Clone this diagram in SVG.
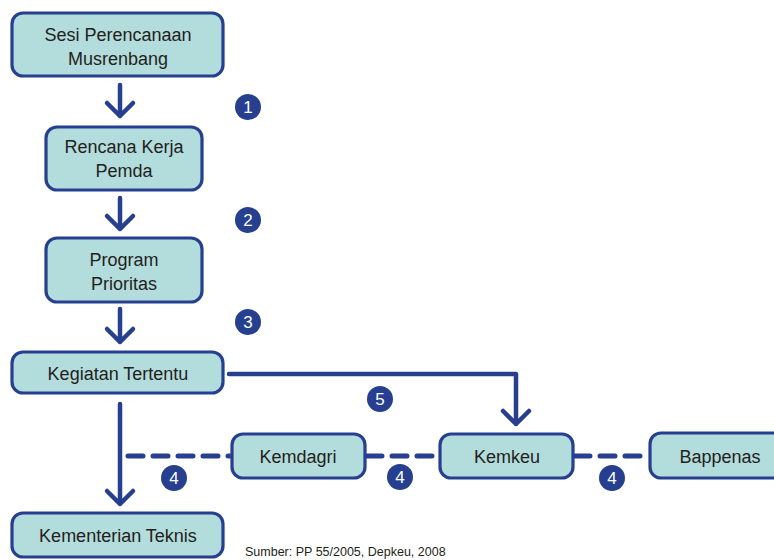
<svg xmlns="http://www.w3.org/2000/svg" width="774" height="560" viewBox="0 0 774 560">
<defs>
<style>
.box{fill:#b3dcdc;stroke:#263f8f;stroke-width:3.2}
.t{font-family:"Liberation Sans",Arial,sans-serif;font-size:18px;fill:#231f20;text-anchor:middle}
.ln{fill:none;stroke:#263f8f;stroke-width:4.5;stroke-linecap:round;stroke-linejoin:round}
.dash{fill:none;stroke:#263f8f;stroke-width:5;stroke-linecap:round;stroke-dasharray:15 10}
.badge circle{fill:#263f8f}
.badge text{font-family:"Liberation Sans",Arial,sans-serif;font-size:17px;fill:#fff;text-anchor:middle}
</style>
</defs>
<rect width="774" height="560" fill="#fff"/>
<g id="connectors">
<path class="ln" d="M120 85V116M107 103L120 116L133 103"/>
<path class="ln" d="M120 198V229M107 216L120 229L133 216"/>
<path class="ln" d="M120 309V342M107 329L120 342L133 329"/>
<path class="ln" d="M120 404V504M107 491L120 504L133 491"/>
<path class="ln" d="M229 374H516V424M503 411L516 424L529 411"/>
<path class="dash" d="M128 456H230"/>
<path class="dash" d="M367 456H438"/>
<path class="dash" d="M575 456H648"/>
</g>
<g id="n1"><rect class="box" x="12" y="13" width="211" height="63" rx="11"/><text class="t" x="118" y="41">Sesi Perencanaan</text><text class="t" x="118" y="65">Musrenbang</text></g>
<g id="n2"><rect class="box" x="46" y="127" width="156" height="63" rx="11"/><text class="t" x="124" y="153">Rencana Kerja</text><text class="t" x="124" y="177">Pemda</text></g>
<g id="n3"><rect class="box" x="46" y="238" width="156" height="64" rx="11"/><text class="t" x="124" y="266">Program</text><text class="t" x="124" y="290">Prioritas</text></g>
<g id="n4"><rect class="box" x="12" y="352" width="211" height="41" rx="11"/><text class="t" x="118" y="380">Kegiatan Tertentu</text></g>
<g id="n5"><rect class="box" x="12" y="513" width="211" height="44" rx="11"/><text class="t" x="118" y="542">Kementerian Teknis</text></g>
<g id="n6"><rect class="box" x="232" y="434" width="133" height="44" rx="11"/><text class="t" x="298" y="463">Kemdagri</text></g>
<g id="n7"><rect class="box" x="440" y="434" width="133" height="44" rx="11"/><text class="t" x="507" y="463">Kemkeu</text></g>
<g id="n8"><rect class="box" x="650" y="433" width="135" height="45" rx="11"/><text class="t" x="720" y="463">Bappenas</text></g>
<g id="badges">
<g class="badge"><circle cx="248" cy="107" r="13"/><text x="248" y="113">1</text></g>
<g class="badge"><circle cx="248" cy="220" r="13"/><text x="248" y="226">2</text></g>
<g class="badge"><circle cx="248" cy="322" r="13"/><text x="248" y="328">3</text></g>
<g class="badge"><circle cx="380" cy="399" r="13"/><text x="380" y="405">5</text></g>
<g class="badge"><circle cx="174" cy="478" r="13"/><text x="174" y="484">4</text></g>
<g class="badge"><circle cx="400" cy="477" r="13"/><text x="400" y="483">4</text></g>
<g class="badge"><circle cx="612" cy="478" r="13"/><text x="612" y="484">4</text></g>
</g>
<text x="245" y="556" font-family="'Liberation Sans',Arial,sans-serif" font-size="12.5" fill="#231f20">Sumber: PP 55/2005, Depkeu, 2008</text>
</svg>
